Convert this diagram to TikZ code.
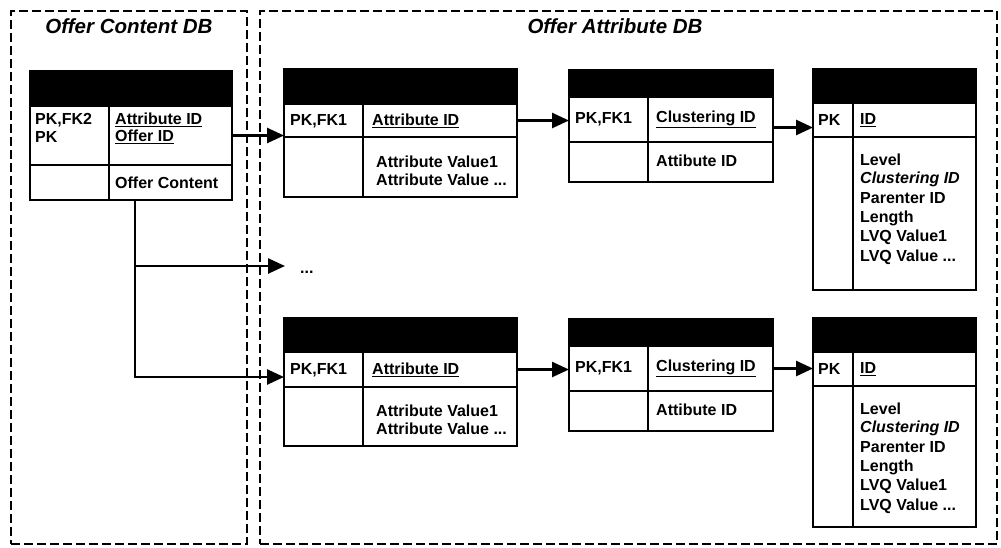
\documentclass[tikz,border=0pt]{standalone}
\usepackage{fontspec}
\setmainfont{Liberation Sans}
\usetikzlibrary{arrows.meta}
\newcommand\ercell[6]{%
  \node[#1, minimum width={(#5-#3)*1pt}, minimum height={(#6-#4)*1pt}] (#2) at (#3,#4) {};}
\begin{document}
\begin{tikzpicture}[x=1pt,y=-1pt,
  cell/.style={draw=black, line width=1.9pt, inner sep=0pt, outer sep=0pt, anchor=north west},
  hdr/.style={cell, fill=black},
  txt/.style={anchor=west, inner sep=0pt, font=\fontsize{16}{19}\selectfont\bfseries},
  ttl/.style={inner sep=0pt, font=\fontsize{20.5}{24}\selectfont\bfseries\itshape},
  link/.style={line width=2.6pt, -{Triangle[length=17pt,width=15pt]}},
  wire/.style={line width=2.6pt},
  dbbox/.style={draw=black, line width=2.2pt, dash pattern=on 9pt off 4pt, inner sep=0pt, outer sep=0pt, anchor=north west}]
\useasboundingbox (0,0) rectangle (1001,547);

% database boundaries
\ercell{dbbox}{boxL}{11}{11}{247}{544}
\ercell{dbbox}{boxR}{260}{11}{997}{544}
\node[ttl] (ttlL) at (129,26) {Offer Content DB};
\node[ttl] (ttlR) at (615,26) {Offer Attribute DB};

% Table 1: offer content
\ercell{hdr}{t1h}{30}{71}{232}{106}
\ercell{cell}{t1kl}{30}{106}{109}{165}
\ercell{cell}{t1kr}{109}{106}{232}{165}
\ercell{cell}{t1al}{30}{165}{109}{200}
\ercell{cell}{t1ar}{109}{165}{232}{200}
\node[txt] (t1k1) at (35,120) {PK,FK2};
\node[txt] (t1k2) at (35,137) {PK};
\node[txt] (t1n1) at (115,120) {\underline{Attribute ID}};
\node[txt] (t1n2) at (115,137) {\underline{Offer ID}};
\node[txt] (t1a1) at (115,183) {Offer Content};

% Table 2
\ercell{hdr}{t2h}{284}{69}{517}{104}
\ercell{cell}{t2kl}{284}{104}{363}{137}
\ercell{cell}{t2kr}{363}{104}{517}{137}
\ercell{cell}{t2al}{284}{137}{363}{197}
\ercell{cell}{t2ar}{363}{137}{517}{197}
\node[txt] (t2k1) at (290,121) {PK,FK1};
\node[txt] (t2n1) at (372,121) {\underline{Attribute ID}};
\node[txt] (t2a1) at (376,162) {Attribute Value1};
\node[txt] (t2a2) at (376,180) {Attribute Value ...};

% Table 3
\ercell{hdr}{t3h}{569}{70}{773}{97}
\ercell{cell}{t3kl}{569}{97}{648}{142}
\ercell{cell}{t3kr}{648}{97}{773}{142}
\ercell{cell}{t3al}{569}{142}{648}{182}
\ercell{cell}{t3ar}{648}{142}{773}{182}
\node[txt] (t3k1) at (575,119) {PK,FK1};
\node[txt] (t3n1) at (656,119) {\underline{Clustering ID}};
\node[txt] (t3a1) at (656,161) {Attibute ID};

% Table 4
\ercell{hdr}{t4h}{813}{69}{976}{103}
\ercell{cell}{t4kl}{813}{103}{853}{137}
\ercell{cell}{t4kr}{853}{103}{976}{137}
\ercell{cell}{t4al}{813}{137}{853}{290}
\ercell{cell}{t4ar}{853}{137}{976}{290}
\node[txt] (t4k1) at (818,120) {PK};
\node[txt] (t4n1) at (860,120) {\underline{ID}};
\node[txt] (t4a1) at (860,160) {Level};
\node[txt] (t4a2) at (860,179) {\itshape Clustering ID};
\node[txt] (t4a3) at (860,198) {Parenter ID};
\node[txt] (t4a4) at (860,218) {Length};
\node[txt] (t4a5) at (860,237) {LVQ Value1};
\node[txt] (t4a6) at (860,257) {LVQ Value ...};

% Table 5
\ercell{hdr}{t5h}{284}{318}{517}{352}
\ercell{cell}{t5kl}{284}{352}{363}{387}
\ercell{cell}{t5kr}{363}{352}{517}{387}
\ercell{cell}{t5al}{284}{387}{363}{446}
\ercell{cell}{t5ar}{363}{387}{517}{446}
\node[txt] (t5k1) at (290,370) {PK,FK1};
\node[txt] (t5n1) at (372,370) {\underline{Attribute ID}};
\node[txt] (t5a1) at (376,411) {Attribute Value1};
\node[txt] (t5a2) at (376,429) {Attribute Value ...};

% Table 6
\ercell{hdr}{t6h}{569}{319}{773}{346}
\ercell{cell}{t6kl}{569}{346}{648}{391}
\ercell{cell}{t6kr}{648}{346}{773}{391}
\ercell{cell}{t6al}{569}{391}{648}{431}
\ercell{cell}{t6ar}{648}{391}{773}{431}
\node[txt] (t6k1) at (575,368) {PK,FK1};
\node[txt] (t6n1) at (656,368) {\underline{Clustering ID}};
\node[txt] (t6a1) at (656,410) {Attibute ID};

% Table 7
\ercell{hdr}{t7h}{813}{318}{976}{352}
\ercell{cell}{t7kl}{813}{352}{853}{386}
\ercell{cell}{t7kr}{853}{352}{976}{386}
\ercell{cell}{t7al}{813}{386}{853}{527}
\ercell{cell}{t7ar}{853}{386}{976}{527}
\node[txt] (t7k1) at (818,369) {PK};
\node[txt] (t7n1) at (860,369) {\underline{ID}};
\node[txt] (t7a1) at (860,409) {Level};
\node[txt] (t7a2) at (860,428) {\itshape Clustering ID};
\node[txt] (t7a3) at (860,447) {Parenter ID};
\node[txt] (t7a4) at (860,467) {Length};
\node[txt] (t7a5) at (860,486) {LVQ Value1};
\node[txt] (t7a6) at (860,506) {LVQ Value ...};

% dots
\node[txt, anchor=base west] (dots) at (300,273) {...};

% connectors
\draw[link] (t1kr.east) -- (t1kr.east -| t2kl.west);
\draw[link] (t2kr.east) -- (t2kr.east -| t3kl.west);
\draw[link] ([yshift=-8pt]t3kr.east) -- ([yshift=-8pt]t3kr.east -| t4kl.west);
\draw[link] (t5kr.east) -- (t5kr.east -| t6kl.west);
\draw[link] (t6kr.east) -- (t6kr.east -| t7kl.west);

\coordinate (b0) at ([xshift=26pt]t1ar.south west);
\coordinate (b1) at (135,266);
\coordinate (b2) at (135,377);
\coordinate (dotsin) at (285,266);
\draw[wire] (b0) -- (b1);
\draw[link] (b1) |- (b2 -| t5kl.west);
\draw[link] (b1) -- (dotsin);
\end{tikzpicture}
\end{document}
